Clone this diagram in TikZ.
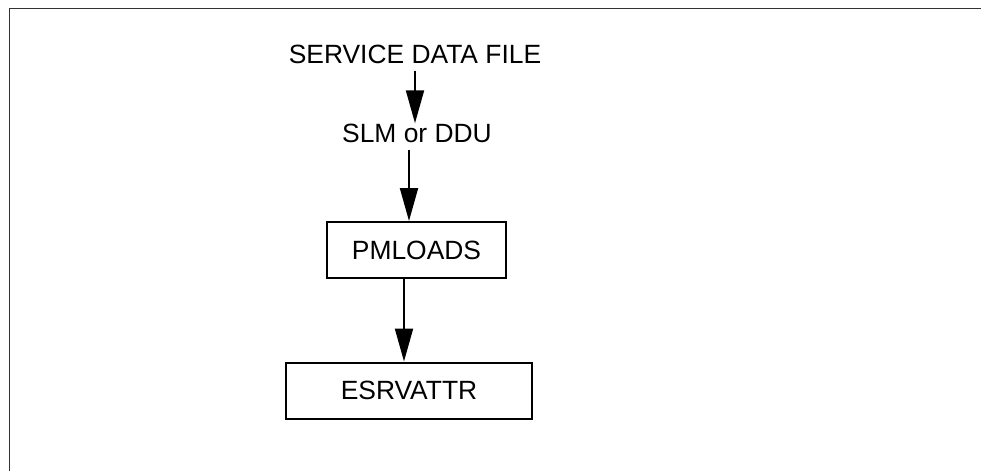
\documentclass[tikz,border=0pt]{standalone}
\usepackage{fontspec}
\setmainfont{Liberation Sans}
\usetikzlibrary{arrows.meta}
\tikzstyle{flowtext} = [inner sep=0pt, font=\fontsize{13.2}{16}\selectfont]
\tikzstyle{process} = [rectangle, minimum height=28pt, text centered, draw=black, line width=1pt, font=\fontsize{13.2}{16}\selectfont]
\tikzstyle{arrow} = [line width=1pt, -{Triangle[length=16.5pt,width=9pt]}]
\tikzstyle{frame} = [line width=0.75pt, draw=black!80]

\begin{document}
\begin{tikzpicture}[x=0.5pt, y=-0.5pt]
\useasboundingbox (0,0) rectangle (981,471);
\draw [frame] (9.3,471) -- (9.3,8.3) -- (981,8.3);

\node (file) [flowtext] at (415,54) {SERVICE DATA FILE};

\node (slm) [flowtext] at (417,133) {SLM or DDU};

\node (pmloads) [process, minimum width=89.5pt] at (416.5,250) {PMLOADS};

\node (esrv) [process, minimum width=123pt] at (409,390.5) {ESRVATTR};
\draw [arrow, shorten <=3.5pt] (file.south) -- (file.south |- slm.north);
\draw [arrow, shorten <=3.5pt] ([xshift=-4pt]slm.south) -- ([xshift=-4pt]slm.south |- pmloads.north);
\draw [arrow] ([xshift=-6.25pt]pmloads.south) -- ([xshift=-6.25pt]pmloads.south |- esrv.north);
\end{tikzpicture}
\end{document}
